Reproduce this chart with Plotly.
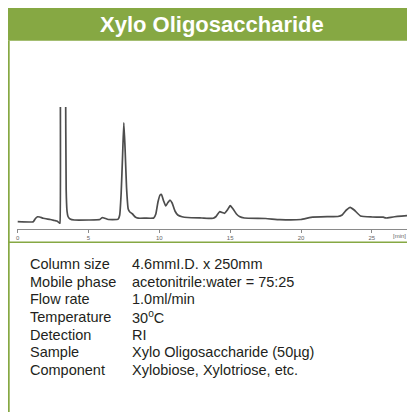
import plotly.graph_objects as go

# the page body has an 8px margin, so the figure is drawn 8px smaller and offset
OFF = 8
W, H = 415 - OFF, 412 - OFF

title = 'Xylo Oligosaccharide'

# chromatogram: retention time (min) and detector response
time_min = [0.0, 1.1, 1.25, 1.4, 1.55, 1.8, 2.3, 2.6, 2.8, 2.95, 2.98, 3.0, 3.05, 3.2,
            3.35, 3.38, 3.42, 3.48, 3.55, 3.7, 4.0, 5.0, 5.8, 5.95, 6.1, 6.4, 7.0,
            7.1, 7.2, 7.3, 7.4, 7.49, 7.58, 7.68, 7.8, 7.9, 8.1, 8.3, 8.5, 9.0, 9.6,
            9.75, 9.9, 10.05, 10.15, 10.3, 10.45, 10.6, 10.75, 10.9, 11.1, 11.3, 11.6, 12.0,
            13.0, 13.8, 14.0, 14.25, 14.6, 14.8, 15.0, 15.2, 15.44, 15.65, 16.0,
            17.5, 18.5, 20.0, 20.7, 21.9, 22.6, 22.9, 23.2, 23.47, 23.75, 24.2,
            25.0, 25.8, 26.0, 26.5, 27.5]
response = [7.3, 7.3, 10.5, 12.2, 12.0, 10.8, 9.5, 8.5, 7.8, 5.8, 6.0, 200, 500, 600,
            500, 150, 40, 18, 12.5, 10.0, 9.0, 9.0, 9.5, 11.3, 11.0, 9.5, 9.5,
            10.0, 14, 35, 72, 106.3, 80, 42, 20, 17.3, 15.0, 12.0, 10.8, 10.8, 11.0,
            15, 27, 34, 34.5, 28, 23, 26.5, 29, 26, 18, 14, 12.3, 11.5,
            11.0, 10.7, 12.5, 17.3, 15.7, 19, 23.3, 20, 15, 12.5, 11.0,
            10.5, 9.3, 9.5, 11.7, 12.3, 12.5, 14, 19, 21.7, 19, 13,
            12.0, 11.8, 11.0, 12.0, 13.3]

tick_vals = [0, 5, 10, 15, 20, 25]
unit_label = '[min]'

param_names = ['Column size', 'Mobile phase', 'Flow rate', 'Temperature',
               'Detection', 'Sample', 'Component']
param_values = ['4.6mmI.D. x 250mm', 'acetonitrile:water = 75:25', '1.0ml/min',
                '30<sup>o</sup>C', 'RI', 'Xylo Oligosaccharide (50\u00b5g)',
                'Xylobiose, Xylotriose, etc.']

GREEN = '#86a843'
TRACE = '#4d4d4d'
AXIS = '#8a8a8a'
FONT = 'Liberation Sans, Arial, sans-serif'


def px(x):
    return (x - OFF) / W


def py(y):
    return 1 - (y - OFF) / H


fig = go.Figure()
fig.add_trace(go.Scatter(x=time_min, y=response, mode='lines',
                         line=dict(color=TRACE, width=1.7, shape='spline', smoothing=0.4),
                         hoverinfo='skip', showlegend=False))

shapes = [
    dict(type='rect', xref='paper', yref='paper', x0=0, x1=1, y0=py(40.7), y1=py(7.3),
         fillcolor=GREEN, line=dict(width=0), layer='below'),
    dict(type='line', xref='paper', yref='paper', x0=px(8.8), x1=px(8.8), y0=0, y1=py(40.7),
         line=dict(color=GREEN, width=1.8)),
    dict(type='line', xref='paper', yref='paper', x0=0, x1=1, y0=py(242.3), y1=py(242.3),
         line=dict(color=GREEN, width=1.6)),
]

annotations = [
    dict(text=title, xref='paper', yref='paper', x=px(211.5), y=py(24), showarrow=False,
         xanchor='center', yanchor='middle',
         font=dict(family=FONT, size=22, color='white', weight='bold')),
    dict(text=unit_label, xref='paper', yref='paper', x=px(408), y=py(236), showarrow=False,
         xanchor='right', yanchor='middle', font=dict(family=FONT, size=6, color='#666')),
]
for i, (name, value) in enumerate(zip(param_names, param_values)):
    y = py(264 + 17.65 * i)
    annotations.append(dict(text=name, xref='paper', yref='paper', x=px(28), y=y,
                            showarrow=False, xanchor='left', yanchor='middle',
                            font=dict(family=FONT, size=14.5, color='#231f20')))
    annotations.append(dict(text=value, xref='paper', yref='paper', x=px(129.5), y=y,
                            showarrow=False, xanchor='left', yanchor='middle',
                            font=dict(family=FONT, size=14.5, color='#231f20')))

fig.update_layout(
    width=W, height=H,
    margin=dict(l=0, r=0, t=0, b=0),
    paper_bgcolor='white', plot_bgcolor='white',
    shapes=shapes, annotations=annotations,
    xaxis=dict(domain=[px(17), px(408)], range=[-0.05, 27.55],
               showgrid=False, zeroline=False, showline=True, linecolor=AXIS, linewidth=1,
               ticks='outside', ticklen=3, tickcolor=AXIS, tickwidth=1,
               tickvals=tick_vals, tickfont=dict(family=FONT, size=6, color='#666')),
    yaxis=dict(domain=[py(229), py(107)], range=[0, 122],
               showgrid=False, zeroline=False, showline=False, showticklabels=False),
)

fig.write_html('out.html')
